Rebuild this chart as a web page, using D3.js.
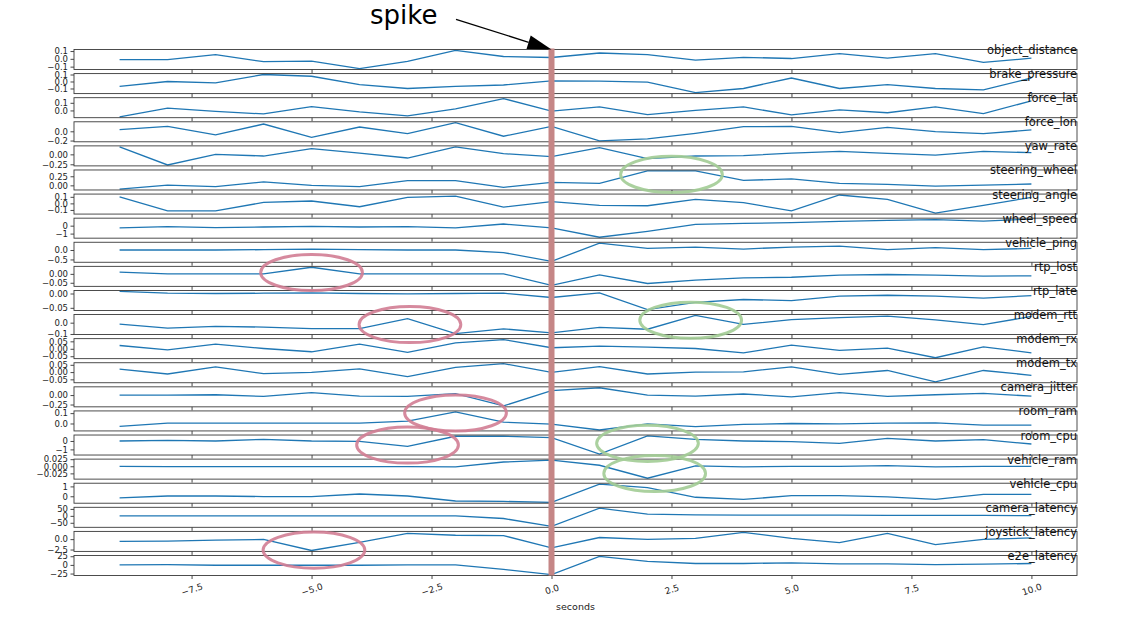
<!DOCTYPE html>
<html><head><meta charset="utf-8">
<script src="https://cdn.jsdelivr.net/npm/d3@7"></script>
<style>body{margin:0;background:#fff} svg{display:block} text{font-family:"DejaVu Sans",sans-serif}</style>
</head><body><svg id="c" width="1144" height="644"></svg>
<script>
const seconds = [-9,-8,-7,-6,-5,-4,-3,-2,-1,0,1,2,3,4,5,6,7,8,9,10];
const names = ["object_distance","brake_pressure","force_lat","force_lon","yaw_rate","steering_wheel","steering_angle","wheel_speed","vehicle_ping","rtp_lost","rtp_late","modem_rtt","modem_rx","modem_tx","camera_jitter","room_ram","room_cpu","vehicle_ram","vehicle_cpu","camera_latency","joystick_latency","e2e_latency"];

const object_distance = [-0.01,-0.01,0.054,-0.037,-0.03,-0.125,-0.033,0.108,0.03,0.017,0.075,0.054,-0.017,0.02,0.004,0.067,0.008,0.067,-0.046,0.008];
const brake_pressure = [-0.07,0.0,-0.02,0.1,0.075,-0.045,-0.1,-0.07,-0.05,0.01,0.005,-0.01,-0.16,-0.1,0.05,-0.1,-0.045,-0.1,-0.12,0.05];
const force_lat = [-0.083,0.03,-0.012,-0.046,0.05,-0.02,-0.07,0.021,0.155,-0.008,0.046,-0.054,0.0,0.046,-0.058,0.008,-0.03,0.046,-0.041,0.125];
const force_lon = [0.036,0.107,-0.079,0.157,-0.129,0.093,-0.05,0.186,-0.107,0.107,-0.207,-0.164,-0.043,0.1,0.107,-0.029,0.086,-0.007,-0.05,0.029];
const yaw_rate = [0.19,-0.267,0,-0.042,0.142,0.033,-0.092,0.19,0.017,-0.058,0.167,-0.108,-0.042,-0.033,0.033,0.075,0.025,-0.017,0.075,0.042];
const steering_wheel = [-0.102,0.009,-0.037,0.093,0,-0.037,0.13,0.13,-0.056,0.083,0.056,0.398,0.398,0.139,0.176,0.056,0.028,-0.019,0.009,0.037];
const steering_angle = [0.1,-0.113,-0.113,0.015,0.036,-0.051,0.09,0.11,-0.056,0.026,-0.031,-0.036,0.062,0.01,-0.113,0.128,0.062,-0.149,-0.031,0.092];
const wheel_speed = [-0.29,-0.125,-0.25,-0.17,-0.08,-0.17,-0.125,-0.29,0.21,-0.29,-1.46,-0.71,0.17,0.29,0.375,0.54,0.67,0.75,0.58,0.83];
const vehicle_ping = [0,0,0,0.017,0.05,0.017,0,0,-0.138,-0.6,0.36,0.086,0.155,0.05,0.155,0.2,0.017,0.12,0.017,0.086];
const rtp_lost = [0.0093,0,0,0,0.037,0,0,0,0,-0.065,-0.006,-0.054,-0.035,-0.022,-0.019,-0.0074,-0.0037,-0.0074,-0.013,-0.011];
const rtp_late = [0.0075,0.001,0,0.001,0.0025,0,-0.001,0,0.001,-0.014,0.0025,-0.056,-0.031,-0.021,-0.025,-0.009,-0.006,-0.009,-0.016,-0.0075];
const modem_rtt = [-0.012,-0.048,-0.033,-0.039,-0.052,-0.052,0.036,-0.097,-0.055,-0.091,-0.042,-0.058,0.064,-0.015,0.027,0.045,0.058,0.024,-0.018,0.055];
const modem_rx = [0.022,-0.007,0.031,0.002,-0.02,0.031,-0.024,0.04,0.062,0.007,0.018,0.011,0.002,-0.027,0.024,-0.011,0.004,-0.06,0.013,-0.027];
const modem_tx = [0.02,-0.013,0.036,-0.011,-0.002,0.022,-0.031,0.033,0.058,-0.002,0.038,-0.013,0,0.002,0.036,-0.016,0.011,-0.067,0.011,-0.022];
const camera_jitter = [0,0,0.009,-0.037,0.065,-0.028,-0.037,0.037,-0.287,0.12,0.194,0,-0.028,0.028,-0.046,0.065,-0.037,0.009,0.046,-0.028];
const room_ram = [-0.028,0.003,0.003,0.003,0.003,0.003,0.022,0.1125,0.0125,-0.006,-0.063,-0.003,-0.031,-0.009,0,-0.003,0.003,0.006,-0.016,-0.016];
const room_cpu = [0,0.08,0,0.2,0,-0.04,-0.64,0.56,0.56,0.4,-1.56,0.6,0.2,0,-0.08,-0.28,0.32,0,0.16,-0.36];
const vehicle_ram = [0,-0.001,-0.001,-0.001,-0.001,-0.001,-0.001,-0.0024,0.015,0.022,0.0036,-0.042,0.0012,-0.0024,0,0,0.0024,-0.0024,0,0];
const vehicle_cpu = [-0.16,0.03,0.03,-0.03,-0.03,0.23,0.03,-0.48,-0.52,-0.61,1.23,0.87,-0.1,-0.32,0.06,0.06,-0.06,-0.32,0.19,0.19];
const camera_latency = [0,0,0,0,0,0,0,0,-19,-76,55,12,7,5,5,5,4,4,3,2];
const joystick_latency = [-0.55,-0.47,-0.23,-0.08,-2.73,-0.78,1.4,0.94,0.86,-2.1,0.39,-0.08,0.16,1.64,0.16,-0.86,1.4,-1.33,-0.08,0.31];
const e2e_latency = [0,1,-1,-1,-1,-1,0,0,-13,-28,24.5,10,4,4,6,3,3,1,2,4];

const yTicks = [[-0.1,0,0.1],[-0.1,0,0.1],[0,0.1],[-0.2,0],[-0.25,0],[0,0.25],[-0.1,0,0.1],[-1,0],[-0.5,0],[-0.05,0],[-0.05,0],[-0.1,0],[-0.05,0,0.05],[-0.05,0,0.05],[-0.25,0],[0,0.1],[-1,0],[-0.025,0,0.025],[0,1],[-50,0,50],[-2.5,0],[-25,0,25]];
const yTickFormats = [".1f",".1f",".1f",".1f",".2f",".2f",".1f","d",".1f",".2f",".2f",".1f",".2f",".2f",".2f",".1f","d",".3f","d","d",".1f","d"];
const xTicks = [-7.5,-5,-2.5,0,2.5,5,7.5,10];
const xLabel = "seconds";
const spikeSecond = 0;
const spikeLabel = "spike";

// annotation rings: centre in seconds and in panel rows
const ringSeconds = [-5,-2.95,-2,-3,-4.95,2.5,2.9,2,2.15];
const ringRows = [8.84,11.0,14.67,16.0,20.36,4.77,10.82,15.93,17.18];
const ringKinds = ["bad","bad","bad","bad","bad","good","good","good","good"];

const series = [object_distance,brake_pressure,force_lat,force_lon,yaw_rate,steering_wheel,steering_angle,wheel_speed,vehicle_ping,rtp_lost,rtp_late,modem_rtt,modem_rx,modem_tx,camera_jitter,room_ram,room_cpu,vehicle_ram,vehicle_cpu,camera_latency,joystick_latency,e2e_latency];

(function draw(){
const svg = d3.select("#c");
svg.append("rect").attr("width",1144).attr("height",644).attr("fill","#fff");

const pL = 74, pR = 1077, pT = 49.5, pB = 575.5;
const xs0 = d3.extent(seconds), xpad = (xs0[1]-xs0[0])*0.05;
const x = d3.scaleLinear().domain([xs0[0]-xpad, xs0[1]+xpad]).range([pL, pR]);
const band = d3.scaleBand().domain(names).range([pT, pB]).paddingInner(0.17).paddingOuter(0);
const bw = band.bandwidth(), step = band.step();
const rowY = r => pT + r*step + bw/2;

const lineColor = "#1f77b4";
const panels = svg.append("g");

names.forEach((name, i) => {
  const vals = series[i];
  const ext = d3.extent(vals), pad = (ext[1]-ext[0])*0.05;
  const y0 = band(name), y1 = y0 + bw;
  const y = d3.scaleLinear().domain([ext[0]-pad, ext[1]+pad]).range([y1, y0]);
  const g = panels.append("g");
  g.append("path")
    .datum(seconds.map((s, k) => [s, vals[k]]))
    .attr("fill","none").attr("stroke",lineColor).attr("stroke-width",1.3)
    .attr("d", d3.line().x(d => x(d[0])).y(d => y(d[1])));
  const fmt = d3.format(yTickFormats[i]);
  const dom = y.domain();
  const ticks = yTicks[i].filter(t => t >= dom[0]-1e-9 && t <= dom[1]+1e-9);
  const ya = d3.axisLeft(y).tickValues(ticks).tickFormat(fmt).tickSize(3.5).tickPadding(2.5);
  const yg = g.append("g").attr("transform",`translate(${pL},0)`).call(ya);
  yg.select(".domain").remove();
  yg.selectAll("line").attr("stroke","#333").attr("stroke-width",0.9);
  yg.selectAll("text").attr("font-size","8.5px").attr("fill","#222").attr("font-family","DejaVu Sans");
  const last = i === names.length-1;
  const xa = d3.axisBottom(x).tickValues(xTicks).tickSize(3.5)
    .tickFormat(last ? d3.format(".1f") : () => "");
  const xg = g.append("g").attr("transform",`translate(0,${y1})`).call(xa);
  xg.select(".domain").remove();
  xg.selectAll("line").attr("stroke","#333").attr("stroke-width",0.9);
  if (last) {
    xg.selectAll("text")
      .attr("font-size","9px").attr("fill","#222").attr("font-family","DejaVu Sans")
      .attr("y",null).attr("dy",null)
      .attr("dominant-baseline","central").attr("text-anchor","middle")
      .attr("transform","translate(0,14) rotate(-18)");
  }
  g.append("rect").attr("x",pL).attr("y",y0).attr("width",pR-pL).attr("height",bw)
    .attr("fill","none").attr("stroke","#3a3a3a").attr("stroke-width",0.9);
});

svg.append("rect")
  .attr("x", x(spikeSecond)-3).attr("y", pT-1).attr("width",6).attr("height", pB-pT+1)
  .attr("fill","#c58686");

names.forEach(name => {
  svg.append("text").attr("x", pR).attr("y", band(name)+0.5)
    .attr("text-anchor","end").attr("dominant-baseline","central")
    .attr("font-size","11.5px").attr("fill","#111").text(name);
});

svg.append("text").attr("x",(pL+pR)/2).attr("y",606)
  .attr("text-anchor","middle").attr("dominant-baseline","central")
  .attr("font-size","9.5px").attr("fill","#222").text(xLabel);

const rx = x(1.06) - x(0), ry = 0.75*step;
ringSeconds.forEach((s, k) => {
  svg.append("ellipse").attr("cx", x(s)).attr("cy", rowY(ringRows[k]))
    .attr("rx", rx).attr("ry", ry).attr("fill","none")
    .attr("stroke", ringKinds[k] === "bad" ? "#d27d93" : "#a2cc95")
    .attr("stroke-width",3).attr("opacity",0.9);
});

const tip = [x(spikeSecond), pT];
const start = [456, 19.3];
const dx = tip[0]-start[0], dy = tip[1]-start[1], len = Math.hypot(dx,dy);
const ux = dx/len, uy = dy/len, nx = -uy, ny = ux;
const L = 24, W = 7;
const base = [tip[0]-L*ux, tip[1]-L*uy];
svg.append("line").attr("x1",start[0]).attr("y1",start[1]).attr("x2",base[0]).attr("y2",base[1])
  .attr("stroke","#000").attr("stroke-width",1.3);
svg.append("path").attr("d", d3.line()([tip, [base[0]+W*nx, base[1]+W*ny], [base[0]-W*nx, base[1]-W*ny]]) + "Z")
  .attr("fill","#000");
svg.append("text").attr("x",370).attr("y",23.5).attr("font-size","26px").attr("fill","#000").text(spikeLabel);
})();
</script></body></html>
